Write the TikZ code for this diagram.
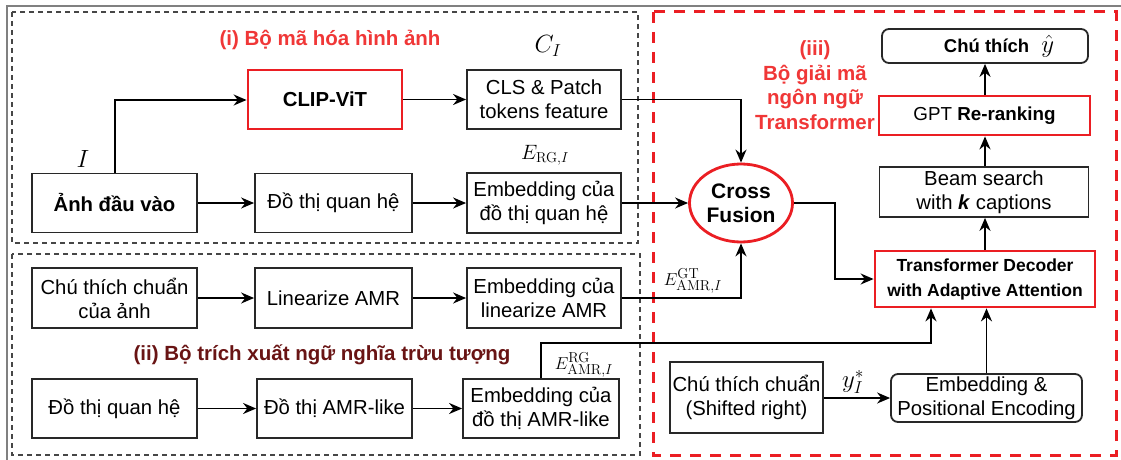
\documentclass[tikz,border=0pt]{standalone}
\usepackage[no-math]{fontspec}
\setmainfont{Liberation Sans}
\usetikzlibrary{shapes.geometric,arrows.meta}
\definecolor{myred}{RGB}{235,30,35}
\definecolor{titlered}{RGB}{240,55,55}
\definecolor{maroon}{RGB}{105,20,20}
\definecolor{edge}{RGB}{40,40,40}
\definecolor{dgray}{RGB}{70,70,70}
\tikzset{
  box/.style={draw=edge, line width=1.8pt, align=center, inner sep=1pt, font=\fontsize{20.3}{24}\selectfont},
  redbox/.style={box, draw=myred, line width=2.8pt},
  rbox/.style={box, rounded corners=7pt},
  arr/.style={draw=black, line width=1.9pt, -{Stealth[length=13pt,width=11pt]}},
  grpgray/.style={draw=dgray, line width=1.5pt, dash pattern=on 5pt off 4pt},
  grpred/.style={draw=myred, line width=3pt, dash pattern=on 11pt off 9pt},
  ttl/.style={font=\fontsize{20.5}{24.5}\selectfont\bfseries, align=center},
  mlab/.style={font=\fontsize{19}{22}\selectfont, inner sep=0pt},
}
\begin{document}
\begin{tikzpicture}[x=1pt,y=-1pt]
\useasboundingbox (0,0) rectangle (1121,460);
\fill[white] (0,0) rectangle (1121,460);
% outer frame
\draw[gray, line width=1.2pt] (7,470) -- (7,6) -- (1130,6);
% group frames
\draw[grpgray] (12,12) rectangle (638,243);
\draw[grpgray] (12,254) rectangle (640,455);
\draw[grpred] (653,12) rectangle (1116,455);

% titles
\node[ttl, text=titlered] (t1) at (330,40) {(i) Bộ mã hóa hình ảnh};
\node[ttl, text=maroon] (t2) at (322,355) {(ii) Bộ trích xuất ngữ nghĩa trừu tượng};
\node[ttl, text=titlered] (t3) at (815,85) {(iii)\\Bộ giải mã\\ngôn ngữ\\Transformer};

% group (i)
\node[box, minimum width=165, minimum height=59] (img) at (114.5,203) {\bfseries Ảnh đầu vào};
\node[box, minimum width=157, minimum height=59] (rg1) at (333.5,203) {Đồ thị quan hệ};
\node[redbox, minimum width=154, minimum height=59] (clip) at (325,99.5) {\bfseries CLIP-ViT};
\node[box, minimum width=154, minimum height=59] (cls) at (544,99.5) {CLS \& Patch\\tokens feature};
\node[box, minimum width=154, minimum height=60] (emb1) at (544,203) {Embedding của\\đồ thị quan hệ};

% group (ii)
\node[box, minimum width=165, minimum height=60] (cap) at (114.5,298) {Chú thích chuẩn\\của ảnh};
\node[box, minimum width=157, minimum height=60] (lin) at (333.5,298) {Linearize AMR};
\node[box, minimum width=154, minimum height=60] (emb2) at (544,298) {Embedding của\\linearize AMR};
\node[box, minimum width=165, minimum height=59] (rg2) at (114.5,408.5) {Đồ thị quan hệ};
\node[box, minimum width=155, minimum height=59] (amr) at (334.5,408.5) {Đồ thị AMR-like};
\node[box, minimum width=156, minimum height=59] (emb3) at (541,408.5) {Embedding của\\đồ thị AMR-like};

% group (iii)
\node[ellipse, draw=myred, line width=2.8pt, minimum width=103, minimum height=78, inner sep=0pt, align=center, font=\fontsize{21}{24}\selectfont\bfseries] (cf) at (741,203) {Cross\\Fusion};
\node[redbox, minimum width=220, minimum height=56, font=\fontsize{17.5}{25}\selectfont\bfseries] (dec) at (985,279) {Transformer Decoder\\with Adaptive Attention};
\node[box, minimum width=209, minimum height=50] (beam) at (984,192) {Beam search\\with \textbf{\textit{k}} captions};
\node[redbox, minimum width=211, minimum height=39, font=\fontsize{18.8}{22}\selectfont] (gpt) at (984.5,115.5) {GPT \textbf{Re-ranking}};
\node[rbox, minimum width=206, minimum height=34] (out) at (985,46) {\hspace*{28pt}\fontsize{18.5}{20}\selectfont\bfseries Chú thích\hspace{12pt}\fontsize{28}{26}\selectfont$\hat{y}$};
\node[box, minimum width=153, minimum height=71] (shift) at (746.5,397.5) {Chú thích chuẩn\\(Shifted right)};
\node[rbox, minimum width=191, minimum height=48] (pos) at (986.5,398) {Embedding \&\\Positional Encoding};

% math labels
\node[mlab, font=\fontsize{26}{28}\selectfont] (lI) at (83,159) {$I$};
\node[mlab, font=\fontsize{24}{26}\selectfont] (lC) at (548,46) {$C_I$};
\node[mlab, font=\fontsize{21}{24}\selectfont] (lE1) at (545,155) {$E_{\mathrm{RG},I}$};
\node[mlab] (lE2) at (693,281) {$E^{\mathrm{GT}}_{\mathrm{AMR},I}$};
\node[mlab] (lE3) at (584,365) {$E^{\mathrm{RG}}_{\mathrm{AMR},I}$};
\node[mlab, font=\fontsize{24}{26}\selectfont] (ly) at (853,382) {$y_I^*$};

% connectors
\coordinate (c1) at (115,100);
\draw[arr] (img.north -| c1) -- (c1) -- (clip.west |- c1);
\draw[arr] (img.east) -- (rg1.west);
\draw[arr] (clip.east) -- (cls.west);
\draw[arr] (rg1.east) -- (emb1.west);
\draw[arr] (cls.east) -| (cf.north);
\draw[arr] (emb1.east) -- (cf.west);
\draw[arr] (emb2.east) -| (cf.south);
\coordinate (c2) at (835,279);
\draw[arr] (cf.east) -| (c2) -- (dec.west);

\draw[arr] (cap.east) -- (lin.west);
\draw[arr] (lin.east) -- (emb2.west);
\draw[arr] (rg2.east) -- (amr.west);
\draw[arr] (amr.east) -- (emb3.west);

\coordinate (c3) at (931,343);
\draw[arr] (emb3.north) |- (c3) -- (c3 |- dec.south);
\draw[arr] (shift.east |- pos.west) -- (pos.west);
\draw[arr] (pos.north) -- (pos.north |- dec.south);
\draw[arr] (dec.north) -- (dec.north |- beam.south);
\draw[arr] (beam.north -| dec.north) -- (dec.north |- gpt.south);
\draw[arr] (gpt.north -| dec.north) -- (dec.north |- out.south);
\end{tikzpicture}
\end{document}
